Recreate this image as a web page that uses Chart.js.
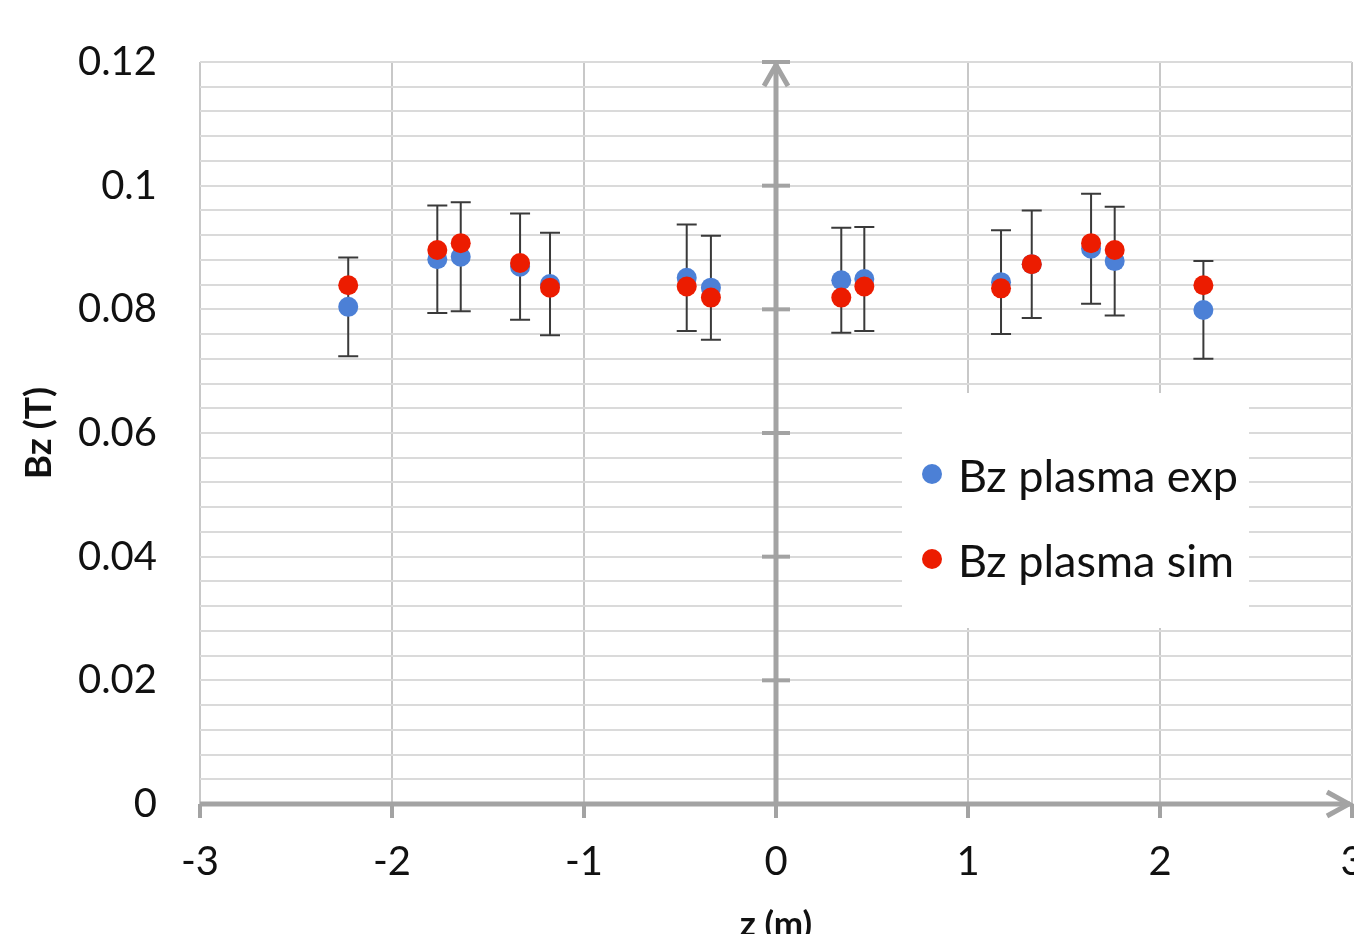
<!DOCTYPE html>
<html><head><meta charset="utf-8">
<script src="https://cdn.jsdelivr.net/npm/chart.js@4"></script>
<style>html,body{margin:0;padding:0;background:#fff}</style>
</head><body>
<canvas id="c" width="1354" height="934"></canvas>
<script>
// ---- data ----
const zPositions = [-2.228, -1.764, -1.642, -1.333, -1.177, -0.465, -0.339, 0.340, 0.460, 1.172, 1.332, 1.641, 1.764, 2.226];
const bzExp    = [0.0804, 0.0881, 0.0885, 0.0869, 0.0841, 0.0851, 0.0835, 0.0847, 0.0849, 0.0844, 0.0873, 0.0898, 0.0878, 0.0799];
const bzExpErr = [0.0080, 0.0087, 0.0088, 0.0086, 0.0083, 0.0086, 0.0084, 0.0085, 0.0084, 0.0084, 0.0087, 0.0089, 0.0088, 0.0079];
const bzSim    = [0.0839, 0.0896, 0.0907, 0.0875, 0.0835, 0.0837, 0.0819, 0.0819, 0.0837, 0.0834, 0.0873, 0.0907, 0.0896, 0.0839];
const seriesNames = ['Bz plasma exp', 'Bz plasma sim'];
const xTickLabels = ['-3', '-2', '-1', '0', '1', '2', '3'];
const yTickLabels = ['0', '0.02', '0.04', '0.06', '0.08', '0.1', '0.12'];
const xTitle = 'z (m)';
const yTitle = 'Bz (T)';

// ---- style ----
const BLUE = '#4c80d6';
const RED = '#ec1c00';
const AXIS = '#a3a3a3';
const FONT = 'Lato';
const Y_MINOR = 0.004;
const Y_MAJOR_EVERY = 5;

function noAutoPad(s) { s.paddingLeft = 0; s.paddingRight = 0; s.paddingTop = 0; s.paddingBottom = 0; }

const overlay = {
  id: 'overlay',
  beforeDatasetsDraw(chart) {
    const {ctx, scales: {x, y}} = chart;
    const x0 = x.getPixelForValue(0), y0 = y.getPixelForValue(0);
    const yTop = y.getPixelForValue(y.max), xL = x.getPixelForValue(x.min), xR = x.getPixelForValue(x.max);
    ctx.save();
    ctx.strokeStyle = AXIS;
    ctx.lineWidth = 5;
    ctx.beginPath(); ctx.moveTo(x0, y0); ctx.lineTo(x0, yTop + 2); ctx.stroke();
    ctx.beginPath(); ctx.moveTo(xL, y0); ctx.lineTo(xR - 2, y0); ctx.stroke();
    ctx.lineWidth = 4;
    y.ticks.forEach(t => {
      if (t.label) {
        const p = y.getPixelForValue(t.value);
        ctx.beginPath(); ctx.moveTo(x0 - 14, p); ctx.lineTo(x0 + 14, p); ctx.stroke();
      }
    });
    x.ticks.forEach(t => {
      const p = x.getPixelForValue(t.value);
      ctx.beginPath(); ctx.moveTo(p, y0); ctx.lineTo(p, y0 + 14); ctx.stroke();
    });
    ctx.lineWidth = 5;
    ctx.beginPath(); ctx.moveTo(x0 - 12, yTop + 24); ctx.lineTo(x0, yTop + 3); ctx.lineTo(x0 + 12, yTop + 24); ctx.stroke();
    ctx.beginPath(); ctx.moveTo(xR - 25, y0 - 12); ctx.lineTo(xR - 3, y0); ctx.lineTo(xR - 25, y0 + 12); ctx.stroke();

    // error bars on experimental series
    ctx.strokeStyle = '#3a3a3a';
    ctx.lineWidth = 2;
    zPositions.forEach((z, i) => {
      const px = x.getPixelForValue(z);
      const pt = y.getPixelForValue(bzExp[i] + bzExpErr[i]);
      const pb = y.getPixelForValue(bzExp[i] - bzExpErr[i]);
      ctx.beginPath();
      ctx.moveTo(px, pt); ctx.lineTo(px, pb);
      ctx.moveTo(px - 10, pt); ctx.lineTo(px + 10, pt);
      ctx.moveTo(px - 10, pb); ctx.lineTo(px + 10, pb);
      ctx.stroke();
    });
    ctx.restore();
  },
  afterDatasetsDraw(chart) {
    const {ctx} = chart;
    const box = {l: 902, t: 393, r: 1249, b: 628};
    ctx.save();
    ctx.fillStyle = '#fff';
    ctx.fillRect(box.l, box.t, box.r - box.l, box.b - box.t);
    const rows = [474, 559];
    chart.data.datasets.forEach((ds, i) => {
      ctx.fillStyle = ds.backgroundColor;
      ctx.beginPath(); ctx.arc(932, rows[i], 10, 0, Math.PI * 2); ctx.fill();
      ctx.fillStyle = '#111';
      ctx.font = `45px ${FONT}`;
      ctx.textBaseline = 'middle';
      ctx.textAlign = 'left';
      ctx.fillText(ds.label, 958, rows[i] + 3);
    });
    ctx.restore();
  }
};

new Chart(document.getElementById('c'), {
  type: 'scatter',
  data: {
    datasets: [
      {label: seriesNames[0], data: zPositions.map((z, i) => ({x: z, y: bzExp[i]})),
       backgroundColor: BLUE, borderWidth: 0, pointRadius: 10, pointHoverRadius: 10, order: 1},
      {label: seriesNames[1], data: zPositions.map((z, i) => ({x: z, y: bzSim[i]})),
       backgroundColor: RED, borderWidth: 0, pointRadius: 10, pointHoverRadius: 10, order: 0}
    ]
  },
  options: {
    responsive: false, animation: false, devicePixelRatio: 1,
    layout: {padding: {top: 62, right: 2, left: 0, bottom: 0}, autoPadding: false},
    plugins: {legend: {display: false}, tooltip: {enabled: false}},
    scales: {
      x: {
        type: 'linear', min: -3, max: 3,
        ticks: {stepSize: 1, autoSkip: false, maxRotation: 0, padding: 34, color: '#111',
          font: {family: FONT, size: 40},
          callback: v => xTickLabels[Math.round(v) + 3] ?? ''},
        grid: {color: '#c8c8c8', lineWidth: 2, drawTicks: false},
        border: {display: false},
        title: {display: true, text: xTitle, color: '#111',
          font: {family: FONT, size: 35, weight: 'bold'}, padding: {top: 0, bottom: -12}},
        afterFit(s) { s.height = 130; noAutoPad(s); }
      },
      y: {
        type: 'linear', min: 0, max: 0.12,
        ticks: {stepSize: Y_MINOR, maxTicksLimit: 100, autoSkip: false, padding: 43, color: '#111',
          font: {family: FONT, size: 40},
          callback: v => { const i = Math.round(v / Y_MINOR); return i % Y_MAJOR_EVERY === 0 ? (yTickLabels[i / Y_MAJOR_EVERY] ?? '') : ''; }},
        grid: {color: '#dadada', lineWidth: 2, drawTicks: false},
        border: {display: false},
        title: {display: true, text: yTitle, color: '#111',
          font: {family: FONT, size: 37, weight: 'bold'}, padding: {top: 17, bottom: 0}},
        afterFit(s) { s.width = 200; noAutoPad(s); }
      }
    }
  },
  plugins: [overlay]
});
</script>
</body></html>
